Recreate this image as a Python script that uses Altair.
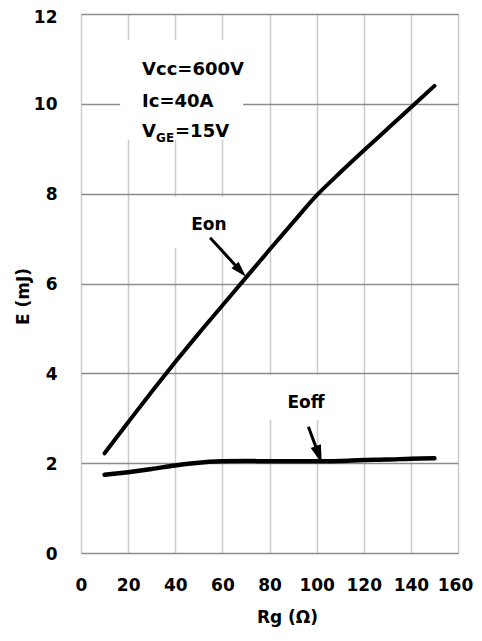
import altair as alt
import pandas as pd

# ---- data ----
rg = [10, 20, 30, 40, 50, 60, 70, 80, 90, 100, 110, 120, 130, 140, 150]
eon = [2.22, 2.91, 3.59, 4.25, 4.89, 5.51, 6.13, 6.75, 7.36, 7.96, 8.47, 8.96, 9.44, 9.92, 10.40]
eoff = [1.74, 1.80, 1.87, 1.95, 2.01, 2.04, 2.05, 2.04, 2.04, 2.04, 2.05, 2.07, 2.08, 2.10, 2.11]

x_ticks = [0, 20, 40, 60, 80, 100, 120, 140, 160]
y_ticks = [0, 2, 4, 6, 8, 10, 12]

curve_labels = ["Eon", "Eoff"]
label_x = [54.3, 95.5]
label_y = [7.30, 3.34]

arrow_x = [54.8, 96.5]
arrow_y = [7.02, 2.81]
arrow_hx = [67.7, 100.9]
arrow_hy = [6.28, 2.19]
arrow_ang = [137, 161]
arrow_size = [256, 324]

cond_text = ["Vcc=600V", "Ic=40A"]
cond_y = [10.65, 9.93]

FONT = "DejaVu Sans"
HEAD = "M0,-1L0.6,1L-0.6,1Z"

df = pd.DataFrame({
    "Rg": rg * 2,
    "E": eon + eoff,
    "curve": ["Eon"] * len(rg) + ["Eoff"] * len(rg),
    "w": [4.0] * len(rg) + [4.5] * len(rg),
})

xs = alt.Scale(domain=[0, 160], nice=False, zero=False)
ys = alt.Scale(domain=[0, 12], nice=False, zero=False)

x_axis = alt.Axis(values=x_ticks, title="Rg (Ω)", grid=True, gridColor="#cccccc", gridWidth=1.5,
                  domain=False, ticks=False, labelPadding=24, labelFont=FONT, labelFontWeight="bold",
                  labelFontSize=17, labelColor="black", titleFont=FONT, titleFontWeight="bold",
                  titleFontSize=17, titleColor="black", titleX=206, titleY=64,
                  titleAlign="center", titleBaseline="middle", labelFlush=False,
                  labelOffset=alt.ExprRef("datum.value == 160 ? -3 : 0"))
y_axis = alt.Axis(values=y_ticks, title="E  (mJ)", grid=True, gridColor="#8c8c8c", gridWidth=1.5,
                  domain=False, ticks=False, labelPadding=24, labelFont=FONT, labelFontWeight="bold",
                  labelFontSize=17, labelColor="black", titleFont=FONT, titleFontWeight="bold",
                  titleFontSize=17, titleColor="black", titleX=-58, titleY=282,
                  titleAlign="center", titleBaseline="middle", titleAngle=270, labelFlush=False,
                  labelOffset=alt.ExprRef("datum.value == 12 ? 3 : 1"))

boxes = pd.DataFrame({"x": [16.6, 36.0, 74.0], "x2": [68.8, 70.0, 110.0],
                      "y": [9.2, 6.79, 2.96], "y2": [11.42, 7.93, 3.96]})
box_layer = alt.Chart(boxes).mark_rect(color="white").encode(
    x=alt.X("x:Q", scale=xs, axis=x_axis), x2="x2:Q",
    y=alt.Y("y:Q", scale=ys, axis=y_axis), y2="y2:Q")

lines = alt.Chart(df).mark_line(color="black", strokeCap="round", strokeJoin="round", interpolate="monotone").encode(
    x=alt.X("Rg:Q", scale=xs),
    y=alt.Y("E:Q", scale=ys),
    detail="curve:N",
    strokeWidth=alt.StrokeWidth("w:Q", scale=None),
)

arr = pd.DataFrame({"x": arrow_x, "y": arrow_y, "hx": arrow_hx, "hy": arrow_hy,
                    "ang": arrow_ang, "sz": arrow_size})
shafts = alt.Chart(arr).mark_rule(color="black", strokeWidth=3).encode(
    x=alt.X("x:Q", scale=xs), y=alt.Y("y:Q", scale=ys), x2="hx:Q", y2="hy:Q")
heads = alt.Chart(arr).mark_point(shape=HEAD, filled=True, color="black", opacity=1, strokeWidth=0).encode(
    x=alt.X("hx:Q", scale=xs), y=alt.Y("hy:Q", scale=ys),
    angle=alt.Angle("ang:Q", scale=None), size=alt.Size("sz:Q", scale=None))

lab = pd.DataFrame({"t": curve_labels, "x": label_x, "y": label_y})
labels = alt.Chart(lab).mark_text(font=FONT, fontWeight="bold", fontSize=17, color="black",
                                  align="center", baseline="middle").encode(
    x=alt.X("x:Q", scale=xs), y=alt.Y("y:Q", scale=ys), text="t:N")

cond = pd.DataFrame({"t": cond_text, "x": [25.9, 25.9], "y": cond_y})
cond_layer = alt.Chart(cond).mark_text(font=FONT, fontWeight="bold", fontSize=18, color="black",
                                       align="left", baseline="alphabetic").encode(
    x=alt.X("x:Q", scale=xs), y=alt.Y("y:Q", scale=ys), text="t:N")

vge = pd.DataFrame({"t": ["V"], "x": [25.9], "y": [9.27]})
vge_v = alt.Chart(vge).mark_text(font=FONT, fontWeight="bold", fontSize=18, color="black",
                                 align="left", baseline="alphabetic").encode(
    x=alt.X("x:Q", scale=xs), y=alt.Y("y:Q", scale=ys), text="t:N")
vge_sub = alt.Chart(pd.DataFrame({"t": ["GE"], "x": [25.9], "y": [9.27]})).mark_text(
    font=FONT, fontWeight="bold", fontSize=12, color="black", align="left", baseline="alphabetic",
    dx=14, dy=5).encode(x=alt.X("x:Q", scale=xs), y=alt.Y("y:Q", scale=ys), text="t:N")
vge_rest = alt.Chart(pd.DataFrame({"t": ["=15V"], "x": [25.9], "y": [9.27]})).mark_text(
    font=FONT, fontWeight="bold", fontSize=18, color="black", align="left", baseline="alphabetic",
    dx=33).encode(x=alt.X("x:Q", scale=xs), y=alt.Y("y:Q", scale=ys), text="t:N")

chart = alt.layer(box_layer, lines, shafts, heads, labels, cond_layer, vge_v, vge_sub, vge_rest).properties(
    width=377, height=539,
    autosize=alt.AutoSizeParams(type="none"),
    padding={"left": 73, "top": 6, "right": 16, "bottom": 80},
).configure_view(stroke="#111111", strokeWidth=3.5).configure(background="white")

chart.save("out.html", embed_options={"renderer": "svg", "actions": False})
